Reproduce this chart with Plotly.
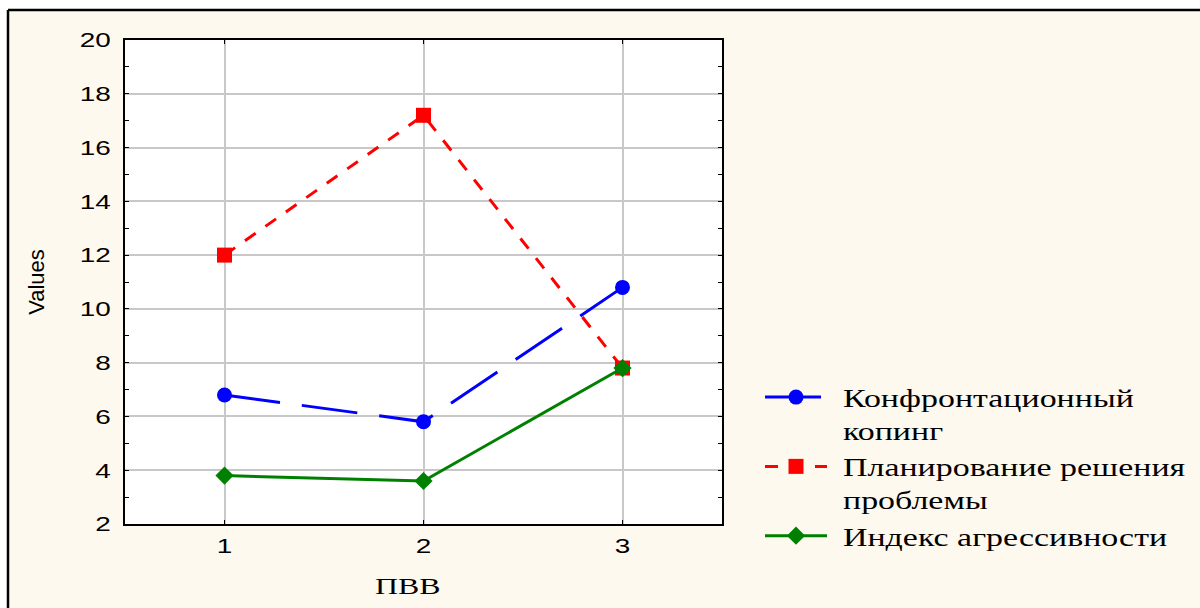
import plotly.graph_objects as go

categories = [1, 2, 3]
konfront = [6.8, 5.8, 10.8]
planirovanie = [12.0, 17.2, 7.8]
agress = [3.8, 3.6, 7.8]
names = ["Конфронтационный<br>копинг", "Планирование решения<br>проблемы", "Индекс агрессивности"]
y_ticks = [2, 4, 6, 8, 10, 12, 14, 16, 18, 20]
x_title = "ПВВ"
y_title = "Values"

W, H = 1200, 608
L, R, T, B = 125, 722, 40, 524

fig = go.Figure()
fig.add_trace(go.Scatter(x=categories, y=konfront, name=names[0], mode="lines+markers",
                         line=dict(color="#0000FF", width=3, dash="56px,22px"),
                         marker=dict(symbol="circle", size=15, color="#0000FF")))
fig.add_trace(go.Scatter(x=categories, y=planirovanie, name=names[1], mode="lines+markers",
                         line=dict(color="#FF0000", width=3, dash="13px,12px"),
                         marker=dict(symbol="square", size=15, color="#FF0000")))
fig.add_trace(go.Scatter(x=categories, y=agress, name=names[2], mode="lines+markers",
                         line=dict(color="#008000", width=3),
                         marker=dict(symbol="diamond", size=14, color="#008000")))


def px_x(px):
    return (px - L) / (R - L)


def px_y(py):
    return (B - py) / (B - T)


shapes = [
    dict(type="rect", xref="paper", yref="paper", x0=px_x(-20), x1=px_x(1220), y0=px_y(10), y1=px_y(-20),
         fillcolor="white", line=dict(width=0), layer="below"),
    dict(type="rect", xref="paper", yref="paper", x0=px_x(-20), x1=px_x(8), y0=px_y(630), y1=px_y(-20),
         fillcolor="white", line=dict(width=0), layer="below"),
    dict(type="line", xref="paper", yref="paper", x0=px_x(8), x1=px_x(1220), y0=px_y(10), y1=px_y(10),
         line=dict(color="black", width=2.5)),
    dict(type="line", xref="paper", yref="paper", x0=px_x(8), x1=px_x(8), y0=px_y(10), y1=px_y(630),
         line=dict(color="black", width=2.5)),
]

fig.add_annotation(text=x_title, xref="paper", yref="paper", x=px_x(407), y=px_y(586),
                   xanchor="center", yanchor="middle", showarrow=False,
                   font=dict(family="Liberation Serif", size=24, color="black"))

fig.update_layout(
    width=W, height=H,
    margin=dict(l=L, r=W - R, t=T, b=H - B),
    paper_bgcolor="#FEF9EF",
    plot_bgcolor="white",
    shapes=shapes,
    showlegend=True,
    legend=dict(x=px_x(760), y=px_y(374), xanchor="left", yanchor="top",
                font=dict(family="Liberation Serif", size=25.5, color="black"),
                bgcolor="rgba(0,0,0,0)", valign="top", itemwidth=62,
                tracegroupgap=6),
    xaxis=dict(range=[0.5, 3.5], tickvals=categories, ticktext=[str(c) for c in categories],
               showgrid=True, gridcolor="#C8C8C8", gridwidth=1.5, zeroline=False,
               showline=True, linecolor="black", linewidth=2, mirror="ticks",
               ticks="inside", ticklen=4, tickcolor="black", ticklabelstandoff=2,
               tickfont=dict(family="Liberation Sans", size=21, color="black")),
    yaxis=dict(range=[2, 20], tickvals=y_ticks,
               showgrid=True, gridcolor="#C8C8C8", gridwidth=1.5, zeroline=False,
               showline=True, linecolor="black", linewidth=2, mirror="ticks",
               ticks="inside", ticklen=4, tickcolor="black", ticklabelstandoff=8,
               minor=dict(dtick=1, tick0=1, ticks="inside", ticklen=4, tickcolor="black", showgrid=False),
               tickfont=dict(family="Liberation Sans", size=21, color="black"),
               title=dict(text=y_title, font=dict(family="Liberation Sans", size=22, color="black"),
                          standoff=37)),
)

post = """
document.body.style.margin = '0';
var gd = document.getElementById('{plot_id}');
var k = 1.33;
gd.querySelectorAll('.legend, .legend *').forEach(function(e){ e.removeAttribute('clip-path'); });
gd.querySelectorAll('svg text').forEach(function(t){
  var tr = t.getAttribute('transform') || '';
  if (tr.indexOf('rotate') >= 0) return;
  var bb = t.getBBox();
  if (!bb.width) return;
  var anc = t.getAttribute('text-anchor') || window.getComputedStyle(t).textAnchor;
  var ax = anc === 'end' ? bb.x + bb.width : (anc === 'middle' ? bb.x + bb.width / 2 : bb.x);
  var shift = t.closest('.legend') ? 11 : 0;
  t.setAttribute('transform', tr + ' translate(' + (ax + shift) + ',0) scale(' + k + ',1) translate(' + (-ax) + ',0)');
});
"""

fig.write_html("out.html", post_script=post, config={"displayModeBar": False})
